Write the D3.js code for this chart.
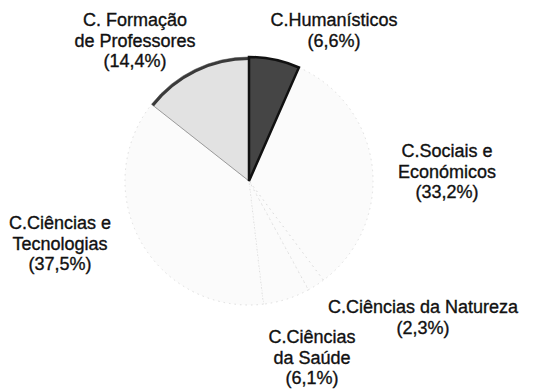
<!DOCTYPE html>
<html lang="pt">
<head>
    <meta charset="UTF-8">
    <title>Distribuição por área científica</title>
    <script src="https://cdn.jsdelivr.net/npm/d3@7"></script>
    <style>
        body{ margin:0; background:#fff; }
        text{
            font-family: "Liberation Sans", Arial, sans-serif;
            font-size: 18px;
            fill: #111;
            stroke: #111;
            stroke-width: 0.35px;
        }
    </style>
</head>
<body>
<div class="container"></div>
<script>
    ////////////////////////////////////////////////////////////////
    /*                       Data                                */
    ////////////////////////////////////////////////////////////////

    // clockwise from 12 o'clock
    const categories = ["C.Humanísticos", "C.Sociais e Económicos", "C.Ciências da Natureza",
        "C.Ciências da Saúde", "C.Ciências e Tecnologias", "C. Formação de Professores"]
    const values = [6.6, 33.2, 2.3, 6.1, 37.5, 14.4]
    const labelLines = [
        ["C.Humanísticos"],
        ["C.Sociais e", "Económicos"],
        ["C.Ciências da Natureza"],
        ["C.Ciências", "da Saúde"],
        ["C.Ciências e", "Tecnologias"],
        ["C. Formação", "de Professores"]
    ]

    ////////////////////////////////////////////////////////////////
    /*                 Layout and styles                         */
    ////////////////////////////////////////////////////////////////

    const width = 547, height = 390
    const cx = 249, cy = 181, radius = 124
    // label block: centre x, first baseline y
    const labelPos = [[334,26],[447,157],[423,313],[312,343],[60,229],[135,26]]
    const lineH = 20.5
    const fills = ["#454545","#fbfbfb","#fbfbfb","#fbfbfb","#fbfbfb","#e2e2e2"]
    const strokes = ["#111","#dedede","#dedede","#dedede","#dedede","#9a9a9a"]

    const svg = d3.select(".container")
        .append("svg")
        .attr("width", width)
        .attr("height", height)
    const pieGroup = svg.append("g").attr("transform", `translate(${cx},${cy})`)

    const pie = d3.pie().sort(null).value(d => d)
    const arc = d3.arc().innerRadius(0).outerRadius(radius)
    const arcs = pie(values)

    pieGroup.selectAll("path.slice")
        .data(arcs)
        .join("path")
        .attr("class", "slice")
        .attr("d", arc)
        .attr("fill", (d,i) => fills[i])
        .attr("stroke", (d,i) => strokes[i])
        .attr("stroke-width", 1)
        .attr("stroke-dasharray", (d,i) => (i === 0 || i === 5) ? null : "1.5,4")

    // darker outer rim on the teachers' training slice
    const rim = d3.arc().innerRadius(radius - 3).outerRadius(radius)
    pieGroup.append("path")
        .attr("d", rim(arcs[5]))
        .attr("fill", "#3a3a3a")

    // draw the dark slice on top so its border is crisp
    pieGroup.append("path")
        .attr("d", arc(arcs[0]))
        .attr("fill", fills[0])
        .attr("stroke", "#111")
        .attr("stroke-width", 2.5)

    ////////////////////////////////////////////////////////////////
    /*                        Labels                             */
    ////////////////////////////////////////////////////////////////

    const labels = svg.selectAll("g.label")
        .data(categories)
        .join("g")
        .attr("class", "label")
        .attr("transform", (d,i) => `translate(${labelPos[i][0]},${labelPos[i][1]})`)

    labels.each(function(d,i){
        const lines = labelLines[i].concat([`(${String(values[i]).replace(".", ",")}%)`])
        d3.select(this).selectAll("text")
            .data(lines)
            .join("text")
            .attr("text-anchor", "middle")
            .attr("y", (l,j) => j * lineH)
            .text(l => l)
    })
</script>
</body>
</html>
